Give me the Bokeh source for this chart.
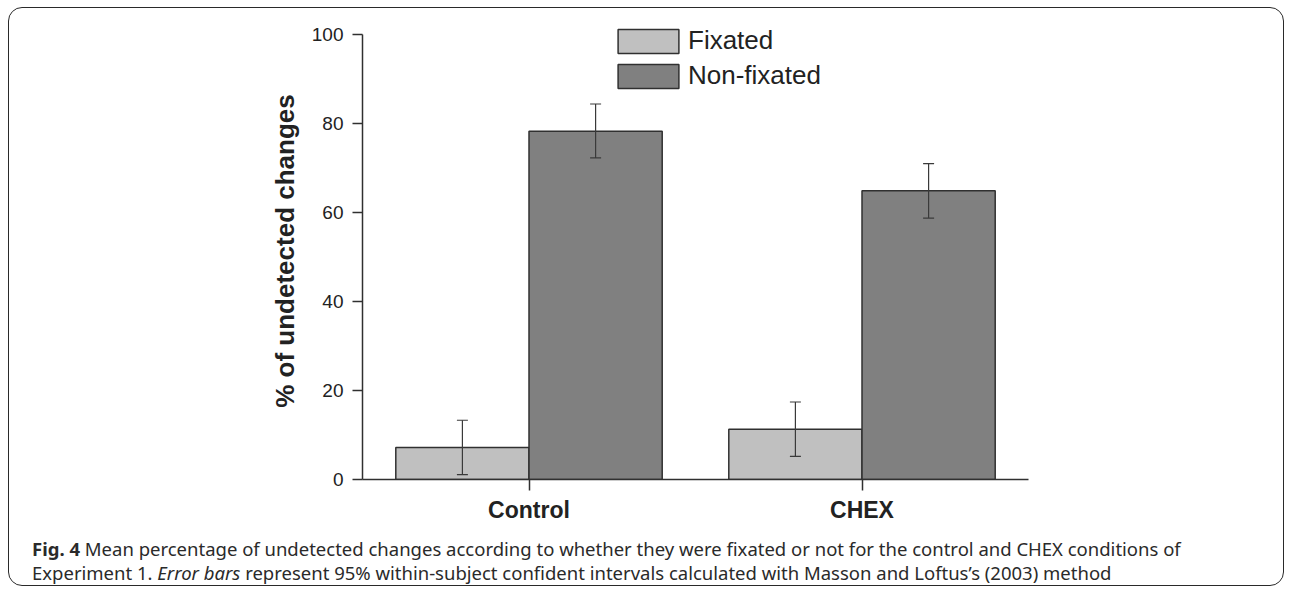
from bokeh.plotting import figure
from bokeh.layouts import column
from bokeh.models import (FactorRange, Range1d, ColumnDataSource, Whisker, TeeHead,
                          Legend, LegendItem, FixedTicker, Div)
from bokeh.transform import dodge
from bokeh.embed import file_html
from bokeh.resources import INLINE

# ---------------- data ----------------
categories = ["Control", "CHEX"]
series = ["Fixated", "Non-fixated"]
fixated = [7.2, 11.3]
fixated_lower = [1.1, 5.2]
fixated_upper = [13.3, 17.4]
nonfixated = [78.2, 64.8]
nonfixated_lower = [72.2, 58.7]
nonfixated_upper = [84.3, 70.9]
y_ticks = [0, 20, 40, 60, 80, 100]
y_label = "% of undetected changes"
caption_bold = "Fig. 4"
caption_line1 = ("Mean percentage of undetected changes according to whether they were "
                 "fixated or not for the control and CHEX conditions of")
caption_line2a = "Experiment 1."
caption_italic = "Error bars"
caption_line2b = ("represent 95% within-subject confident intervals calculated with "
                  "Masson and Loftus\u2019s (2003) method")

# ---------------- styles ----------------
FIX_COLOR = "#c0c0c0"
NON_COLOR = "#808080"
EDGE = "#303030"
FONT = "Liberation Sans"
TXT = "#222222"

src_fix = ColumnDataSource(dict(cat=categories, val=fixated, lower=fixated_lower, upper=fixated_upper))
src_non = ColumnDataSource(dict(cat=categories, val=nonfixated, lower=nonfixated_lower, upper=nonfixated_upper))

# frame extends a little above 100 so the legend is not clipped; the axis line stops at 100
p = figure(width=1273, height=517,
           x_range=FactorRange(*categories), y_range=Range1d(0, 102.6),
           output_backend="svg", toolbar_location=None,
           min_border_left=353, min_border_right=254,
           min_border_top=14, min_border_bottom=46)
p.border_fill_color = None
p.outline_line_color = None
p.xgrid.visible = False
p.ygrid.visible = False

r_fix = p.vbar(x=dodge("cat", -0.2, range=p.x_range), top="val", width=0.4, source=src_fix,
               fill_color=FIX_COLOR, line_color=EDGE, line_width=1.5)
r_non = p.vbar(x=dodge("cat", 0.2, range=p.x_range), top="val", width=0.4, source=src_non,
               fill_color=NON_COLOR, line_color=EDGE, line_width=1.5)

for src, off in ((src_fix, -0.2), (src_non, 0.2)):
    w = Whisker(base=dodge("cat", off, range=p.x_range), upper="upper", lower="lower", source=src,
                line_color="#3a3a3a", line_width=1.2, level="annotation",
                upper_head=TeeHead(size=11, line_color="#3a3a3a", line_width=1.2),
                lower_head=TeeHead(size=11, line_color="#3a3a3a", line_width=1.2))
    p.add_layout(w)

# axes
yax = p.yaxis[0]
yax.ticker = FixedTicker(ticks=y_ticks)
yax.bounds = (y_ticks[0], y_ticks[-1])
yax.minor_tick_line_color = None
yax.major_tick_in = 0
yax.major_tick_out = 10
yax.major_label_standoff = 9
yax.major_label_text_font = FONT
yax.major_label_text_font_size = "19px"
yax.major_label_text_color = TXT
yax.axis_line_color = EDGE
yax.axis_line_width = 1.5
yax.major_tick_line_color = EDGE
yax.major_tick_line_width = 1.5
yax.axis_label = y_label
yax.axis_label_text_font = FONT
yax.axis_label_text_font_size = "26px"
yax.axis_label_text_font_style = "bold"
yax.axis_label_text_color = TXT
yax.axis_label_standoff = 9

xax = p.xaxis[0]
xax.major_tick_in = 0
xax.major_tick_out = 11
xax.major_label_standoff = 6
xax.major_label_text_font = FONT
xax.major_label_text_font_size = "23px"
xax.major_label_text_font_style = "bold"
xax.major_label_text_color = TXT
xax.axis_line_color = EDGE
xax.axis_line_width = 1.5
xax.major_tick_line_color = EDGE
xax.major_tick_line_width = 1.5

# legend (bar legend glyphs are inset 10% inside the glyph area)
legend = Legend(items=[LegendItem(label=series[0], renderers=[r_fix]),
                       LegendItem(label=series[1], renderers=[r_non])],
                location=(248, 388), orientation="vertical",
                glyph_width=76, glyph_height=30, label_standoff=2, spacing=4,
                padding=0, margin=0, border_line_color=None, background_fill_alpha=0,
                label_text_font=FONT, label_text_font_size="26px", label_text_color=TXT)
p.add_layout(legend)

# caption
caption_html = (f"<b>{caption_bold}</b> {caption_line1}<br>"
                f"{caption_line2a} <i>{caption_italic}</i> {caption_line2b}")
cap = Div(text=caption_html, width=1273, height=59,
          styles={"font-family": "'Noto Sans', sans-serif", "font-size": "18.5px",
                  "line-height": "24px", "color": "#2a2a2a", "white-space": "nowrap",
                  "padding-left": "18px", "padding-top": "7px", "box-sizing": "border-box"})

lay = column(p, cap, spacing=0, width=1276, height=579, margin=(7, 0, 0, 8),
             styles={"border": "1.5px solid #2a2a2a", "border-radius": "14px",
                     "box-sizing": "border-box"})

open("out.html", "w").write(file_html(lay, INLINE))
